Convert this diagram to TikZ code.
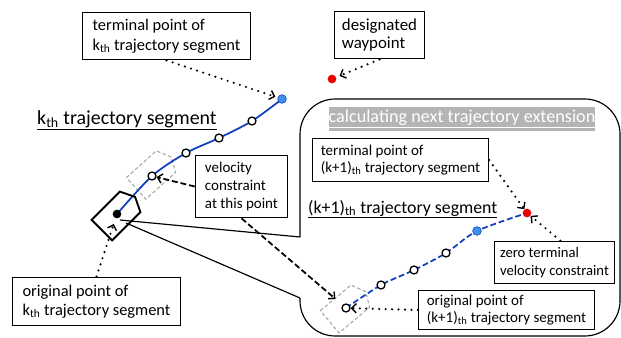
\documentclass[tikz,border=0pt]{standalone}
\usepackage{fontspec}
\setmainfont{Carlito}
\usetikzlibrary{arrows.meta}

\definecolor{trajblue}{RGB}{16,64,190}
\definecolor{dotblue}{RGB}{64,145,235}
\definecolor{wpred}{RGB}{232,0,0}
\definecolor{bangray}{RGB}{180,180,180}

\tikzset{
  box/.style={draw, line width=0.8pt, align=left, inner xsep=4pt, inner ysep=2pt},
  seglabel/.style={inner sep=0pt, anchor=base west},
  dots/.style={line width=2pt, line cap=round, dash pattern=on 0pt off 5.5pt,
    -{Straight Barb[length=4pt,width=8pt,line width=1.2pt]}},
  dashes/.style={line width=1.5pt, dash pattern=on 5pt off 2.5pt,
    -{Straight Barb[length=4pt,width=8pt,line width=1.2pt]}},
  opendot/.style={circle, draw, line width=1.1pt, fill=white, inner sep=0pt, minimum size=0.24cm},
  fulldot/.style={circle, inner sep=0pt, minimum size=0.26cm},
  ghost/.style={draw=gray!70, line width=0.9pt, dash pattern=on 3pt off 2pt},
  vehicle/.pic={\draw (-20,-14.5) -- (20,-14.5) -- (27,0) -- (20,14.5) -- (-20,14.5) -- cycle;}
}

\begin{document}
\begin{tikzpicture}[x=0.03cm, y=-0.03cm]
\useasboundingbox (0,0) rectangle (621,337);

% candidate poses
\pic[ghost, rotate=42] at (151,175) {vehicle};
\pic[ghost, rotate=40] at (345,309) {vehicle};

% callout for the next extension
\draw[line width=1pt, rounded corners=30] (300,237) -- (300,99) -- (620,99) -- (620,336) -- (300,336) -- (300,298);
\coordinate (pt1) at (300,237);
\coordinate (pb1) at (300,298);
\coordinate (tipA) at (120,220);
\coordinate (tipB) at (126,223);
\draw[line width=1pt] (pt1) -- (tipA);
\draw[line width=1pt] (pb1) -- (tipB);

\node[fill=bangray, text=white, minimum width=7cm, minimum height=0.72cm, inner sep=0pt,
  font=\fontsize{15.5}{18}\selectfont] (ban) at (462,119) {\underline{calculating next trajectory extension}};

% k-th segment
\coordinate (k0) at (117,214);
\coordinate (k1) at (152,176);
\coordinate (k2) at (186,153);
\coordinate (k3) at (219,138);
\coordinate (k4) at (252,121);
\coordinate (k5) at (282,99);
\draw[trajblue, line width=1.5pt] plot[smooth] coordinates {(k0) (k1) (k2) (k3) (k4) (k5)};

% (k+1)-th segment
\coordinate (m0) at (346,308);
\coordinate (m1) at (381,285);
\coordinate (m2) at (414,270);
\coordinate (m3) at (446,253);
\coordinate (m4) at (477,231);
\coordinate (m5) at (527,213);
\draw[trajblue, line width=1.5pt, dash pattern=on 5pt off 2.5pt] plot[smooth] coordinates {(m0) (m1) (m2) (m3) (m4) (m5)};

% vehicle
\pic[line width=1.6pt, rotate=45] at (116,216) {vehicle};

% points
\node[fulldot, fill=black] (n0) at (k0) {};
\node[opendot] (n1) at (k1) {};
\node[opendot] (n2) at (k2) {};
\node[opendot] (n3) at (k3) {};
\node[opendot] (n4) at (k4) {};
\node[fulldot, fill=dotblue, draw=trajblue, line width=0.5pt] (n5) at (k5) {};
\node[opendot] (q0) at (m0) {};
\node[opendot] (q1) at (m1) {};
\node[opendot] (q2) at (m2) {};
\node[opendot] (q3) at (m3) {};
\node[fulldot, fill=dotblue, draw=trajblue, line width=0.5pt] (q4) at (m4) {};
\node[fulldot, fill=wpred] (q5) at (m5) {};
\node[fulldot, fill=wpred] (wp) at (332,79) {};

% labels
\node[seglabel, font=\fontsize{17}{20}\selectfont] (lk) at (37,124) {\underline{k\textsubscript{th} trajectory segment}};
\node[seglabel, font=\fontsize{15.2}{18}\selectfont] (lk1) at (308,213) {\underline{(k+1)\textsubscript{th} trajectory segment}};

\node[box, minimum width=143.7pt, minimum height=40.8pt, font=\fontsize{14}{17}\selectfont] (tk) at (166.5,36) {terminal point of\\k\textsubscript{th} trajectory segment};
\node[box, minimum width=77.4pt, minimum height=40.8pt, font=\fontsize{14.4}{15.5}\selectfont] (wpbox) at (379.5,35) {designated\\waypoint};
\node[box, minimum width=79.1pt, minimum height=53.6pt, font=\fontsize{12.8}{15.3}\selectfont] (vel) at (241.5,186.5) {velocity\\constraint\\at this point};
\node[box, minimum width=143.7pt, minimum height=41.7pt, font=\fontsize{14}{16.2}\selectfont] (ok) at (96.5,301.5) {original point of\\k\textsubscript{th} trajectory segment};
\node[box, minimum width=150.5pt, minimum height=37.4pt, font=\fontsize{12.8}{13.8}\selectfont] (tk1) at (400.5,160) {terminal point of\\(k+1)\textsubscript{th} trajectory segment};
\node[box, minimum width=102.9pt, minimum height=36.6pt, font=\fontsize{12.5}{15.3}\selectfont] (zero) at (554.5,262.5) {zero terminal\\velocity constraint};
\node[box, minimum width=150.5pt, minimum height=34pt, font=\fontsize{12.8}{14.5}\selectfont] (ok1) at (506.5,310) {original point of\\(k+1)\textsubscript{th} trajectory segment};

% pointers
\draw[dots, shorten >=2pt] (tk.south) -- (n5);
\draw[dots, shorten >=3pt] (wpbox.south) -- (wp);
\draw[dots, shorten >=5pt] (ok.north) -- (n0);
\draw[dots] (tk1.east) -- (q5);
\draw[dots] ([xshift=5pt]zero.north) -- (q5);
\draw[dots] (ok1.west) -- (q0);
\draw[dashes] (vel.west) -- (n1);
\draw[dashes, shorten >=8pt] (vel.south) -- (q0);

\end{tikzpicture}
\end{document}
